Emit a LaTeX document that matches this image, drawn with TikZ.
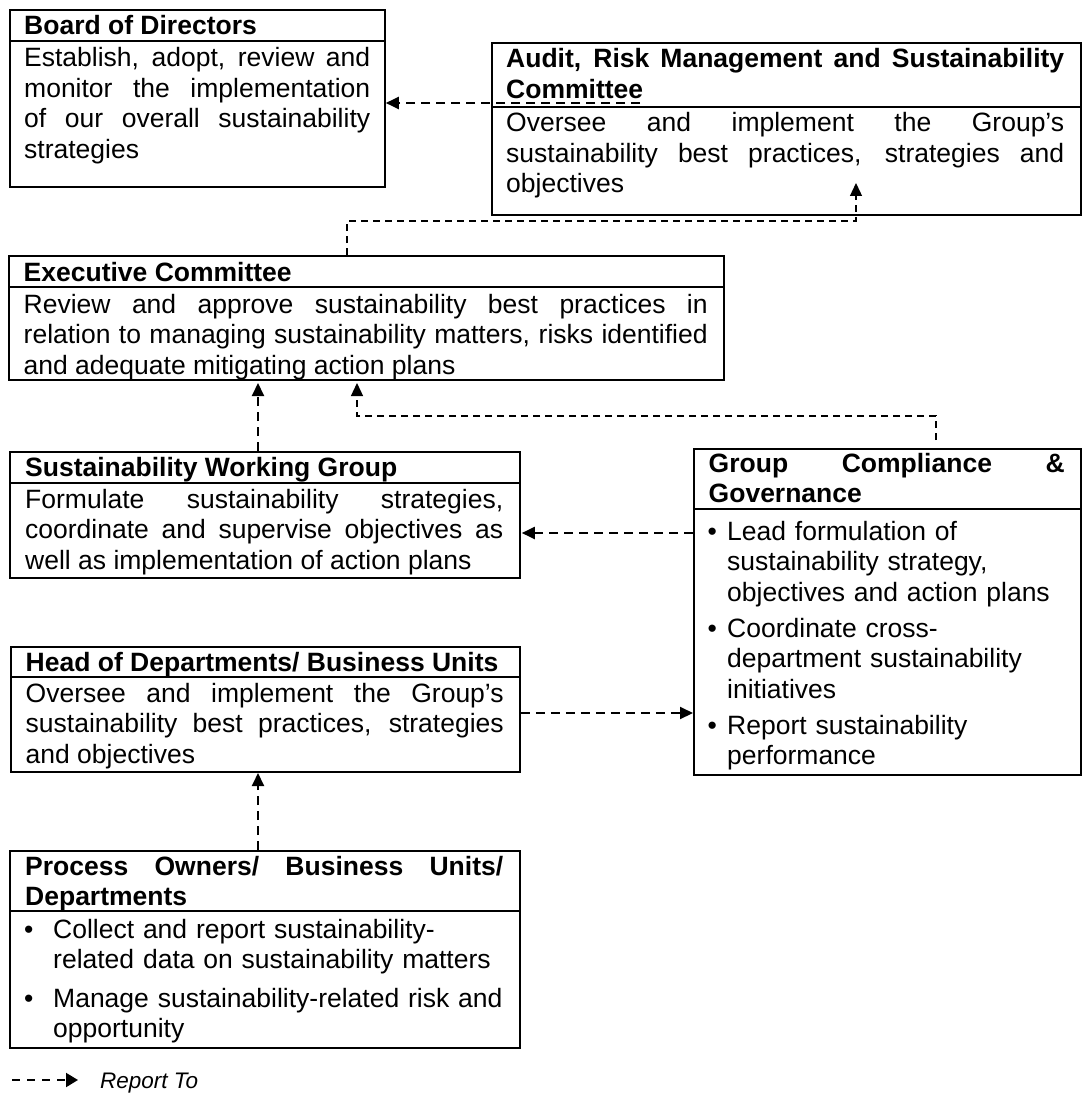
\documentclass[tikz,border=0pt]{standalone}
\usepackage{fontspec}
\setmainfont{Liberation Sans}
\usetikzlibrary{arrows.meta,calc}
\tolerance=10000
\hbadness=10000
\hyphenpenalty=10000
\exhyphenpenalty=10000
\begin{document}
\begin{tikzpicture}[x=1pt,y=-1pt,
  box/.style={draw, line width=1.8pt, inner sep=0pt, anchor=north west},
  divider/.style={line width=1.8pt},
  ttl/.style={font=\bfseries\fontsize{26.5}{30.5}\selectfont, inner sep=0pt, anchor=base west, align=justify},
  txt/.style={font=\fontsize{26.5}{30.5}\selectfont, inner sep=0pt, anchor=base west, align=justify},
  lst/.style={font=\fontsize{26.5}{30.5}\selectfont, inner sep=0pt, anchor=base west, align=left},
  bul/.style={font=\fontsize{26.5}{30.5}\selectfont, inner sep=0pt, anchor=base west},
  rep/.style={line width=2pt, dash pattern=on 9pt off 6pt, -{Triangle[length=13pt,width=12pt]}},
  repthin/.style={line width=1.3pt, dash pattern=on 7pt off 5pt, -{Triangle[length=13pt,width=12pt]}},
]
\useasboundingbox (0,0) rectangle (1087,1107);

% Board of Directors
\node[box, minimum width=375pt, minimum height=177pt] (bod) at (9,9) {};
\draw[divider] ($(bod.north west)+(0,32)$) -- ($(bod.north east)+(0,32)$);
\node[ttl, text width=346pt] (bodt) at (24,35) {Board of Directors};
\node[txt, text width=346pt] (bodb) at (24,67) {Establish, adopt, review and\linebreak monitor the implementation\linebreak of our overall sustainability\linebreak strategies};

% Audit, Risk Management and Sustainability Committee
\node[box, minimum width=589pt, minimum height=172pt] (arm) at (491,42) {};
\draw[divider] ($(arm.north west)+(0,65)$) -- ($(arm.north east)+(0,65)$);
\node[ttl, text width=558pt] (armt) at (506,68) {Audit, Risk Management and Sustainability\linebreak Committee};
\node[txt, text width=558pt] (armb) at (506,132) {Oversee and implement the Group's\linebreak sustainability best practices, strategies and\linebreak objectives};

% Executive Committee
\node[box, minimum width=715pt, minimum height=124pt] (exec) at (8,255) {};
\draw[divider] ($(exec.north west)+(0,32)$) -- ($(exec.north east)+(0,32)$);
\node[ttl, text width=684pt] (exect) at (23.5,281) {Executive Committee};
\node[txt, text width=684pt] (execb) at (23.5,313) {Review and approve sustainability best practices in\linebreak relation to managing sustainability matters, risks identified\linebreak and adequate mitigating action plans};

% Sustainability Working Group
\node[box, minimum width=510pt, minimum height=126pt] (swg) at (9,451) {};
\draw[divider] ($(swg.north west)+(0,32)$) -- ($(swg.north east)+(0,32)$);
\node[ttl, text width=478pt] (swgt) at (25,476) {Sustainability Working Group};
\node[txt, text width=478pt] (swgb) at (25,508) {Formulate sustainability strategies,\linebreak coordinate and supervise objectives as\linebreak well as implementation of action plans};

% Group Compliance & Governance
\node[box, minimum width=387pt, minimum height=326pt] (gcg) at (693,448) {};
\draw[divider] ($(gcg.north west)+(0,61)$) -- ($(gcg.north east)+(0,61)$);
\node[ttl, text width=356pt] (gcgt) at (708.5,472) {Group Compliance \&\linebreak Governance};
\node[bul] (gb1) at (707.5,540) {•};
\node[lst, text width=340pt] (gi1) at (727,540) {Lead formulation of\\sustainability strategy,\\objectives and action plans};
\node[bul] (gb2) at (707.5,637) {•};
\node[lst, text width=340pt] (gi2) at (727,637) {Coordinate cross-\\department sustainability\\initiatives};
\node[bul] (gb3) at (707.5,734) {•};
\node[lst, text width=340pt] (gi3) at (727,734) {Report sustainability\\performance};

% Head of Departments / Business Units
\node[box, minimum width=509pt, minimum height=125pt] (hod) at (10,646) {};
\draw[divider] ($(hod.north west)+(0,31)$) -- ($(hod.north east)+(0,31)$);
\node[ttl, text width=480pt] (hodt) at (25.5,671) {Head of Departments/ Business Units};
\node[txt, text width=478pt] (hodb) at (25.5,702) {Oversee and implement the Group's\linebreak sustainability best practices, strategies\linebreak and objectives};

% Process Owners / Business Units / Departments
\node[box, minimum width=510pt, minimum height=197pt] (pod) at (9,850) {};
\draw[divider] ($(pod.north west)+(0,61)$) -- ($(pod.north east)+(0,61)$);
\node[ttl, text width=478pt] (podt) at (25,875) {Process Owners/ Business Units/\linebreak Departments};
\node[bul] (pb1) at (24,938) {•};
\node[lst, text width=460pt] (pi1) at (53,938) {Collect and report sustainability-\\related data on sustainability matters};
\node[bul] (pb2) at (24,1007) {•};
\node[lst, text width=460pt] (pi2) at (53,1007) {Manage sustainability-related risk and\\opportunity};

% Connectors
\coordinate (a1) at (640,103);
\draw[rep] (a1) -- (bod.east |- a1);

\coordinate (a2) at (856,221);
\coordinate (a2t) at (856,183);
\draw[repthin] ($(exec.north west)+(339,0)$) |- (a2) -- (a2t);

\draw[rep] ($(swg.north west)+(249,0)$) -- ++(0,-68);

\coordinate (a4) at (357,416);
\coordinate (a4t) at (357,383);
\draw[repthin] ($(gcg.north west)+(243,-8)$) |- (a4) -- (a4t);

\draw[rep] ($(gcg.north west)+(0,85)$) -- ($(swg.north east)+(1,82)$);

\draw[rep] ($(hod.north east)+(0,67)$) -- ($(gcg.north west)+(0,265)$);

\draw[rep] ($(pod.north west)+(249,0)$) -- ++(0,-77);

% Legend
\coordinate (l0) at (12,1080);
\coordinate (l1) at (78,1080);
\draw[line width=2pt, dash pattern=on 8pt off 7pt, -{Triangle[length=12pt,width=14pt]}] (l0) -- (l1);
\node[font=\itshape\fontsize{22.5}{27}\selectfont, inner sep=0pt, anchor=base west] (leg) at (100,1088) {Report To};
\end{tikzpicture}
\end{document}
